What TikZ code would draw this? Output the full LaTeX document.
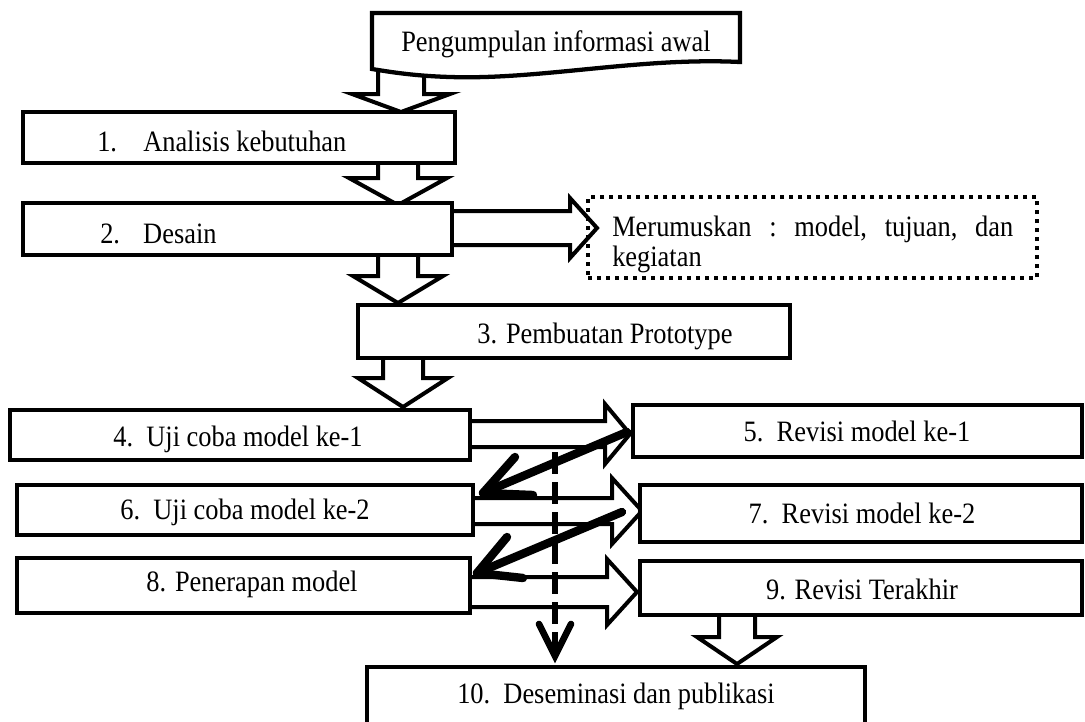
\documentclass[tikz,border=0pt]{standalone}
\usepackage{fontspec}
\usepackage{graphicx}
\setmainfont{Liberation Serif}
\usetikzlibrary{calc,fit}
\tikzset{
 box/.style={draw, line width=3.2pt, fill=white, inner sep=0pt},
 blockarrow/.style={draw, line width=3pt, fill=white, line join=miter, miter limit=20},
 txt/.style={font=\fontsize{19.8}{24}\selectfont, inner sep=0pt, anchor=base},
 feedback/.style={line width=6.3pt, line cap=round, line join=round},
 dashline/.style={line width=5pt, dash pattern=on 16.5pt off 6pt},
 vhead/.style={line width=5pt, line cap=round, line join=miter},
 dotbox/.style={draw, line width=3pt, dash pattern=on 3pt off 3.75pt, inner sep=0pt},
}
\newcommand\vst[1]{\scalebox{1}[1.12]{#1}}
\newcommand\blockdown[5]{%
 \draw[blockarrow] ($(#1)+(-#3,0)$) -- ($(#2)+(-#3,-#5)$) -- ($(#2)+(-#4,-#5)$) -- (#2) -- ($(#2)+(#4,-#5)$) -- ($(#2)+(#3,-#5)$) -- ($(#1)+(#3,0)$);}
\newcommand\blockright[5]{%
 \draw[blockarrow] ($(#1)+(0,-#3)$) -- ($(#2)+(-#5,-#3)$) -- ($(#2)+(-#5,-#4)$) -- (#2) -- ($(#2)+(-#5,#4)$) -- ($(#2)+(-#5,#3)$) -- ($(#1)+(0,#3)$);}
\begin{document}
\begin{tikzpicture}[x=0.75pt,y=-0.75pt]
\useasboundingbox (0,0) rectangle (1085,721);
\clip (0,0) rectangle (1085,721);

% arrow end points
\coordinate (a0s) at (401,70);  \coordinate (a0t) at (401,112);
\coordinate (a1s) at (398,158); \coordinate (a1t) at (398,205);
\coordinate (a2s) at (398,250); \coordinate (a2t) at (398,303);
\coordinate (a3s) at (403,353); \coordinate (a3t) at (403,407);
\coordinate (a4s) at (737,610); \coordinate (a4t) at (737,664);
\coordinate (r0s) at (447,228); \coordinate (r0t) at (597,228);
\coordinate (r1s) at (465,434); \coordinate (r1t) at (630,434);
\coordinate (r2s) at (470,511); \coordinate (r2t) at (642,511);
\coordinate (r3s) at (466,592); \coordinate (r3t) at (637,592);

% hollow block arrows
\blockdown{a0s}{a0t}{23}{49}{18}
\blockdown{a1s}{a1t}{20}{49}{27}
\blockdown{a2s}{a2t}{20}{45}{27}
\blockdown{a3s}{a3t}{20}{45}{29}
\blockdown{a4s}{a4t}{18}{40}{27}
\blockright{r0s}{r0t}{17}{30}{27}
\blockright{r1s}{r1t}{13}{30}{25}
\blockright{r2s}{r2t}{13}{33}{30}
\blockright{r3s}{r3t}{15}{33}{30}

% document shape
\draw[box, line join=miter] (372,13) -- (740,13) -- (740,62) .. controls (640,57) and (540,80) .. (450,77) .. controls (415,76) and (390,72) .. (372,69) -- cycle;

% boxes
\node[box, fit={(23,112) (455,163)}] (b1) {};
\node[box, fit={(23,203) (452,255)}] (b2) {};
\node[box, fit={(358,305) (790,358)}] (b3) {};
\node[box, fit={(10,410) (470,460)}] (b4) {};
\node[box, fit={(633,405) (1082,457)}] (b5) {};
\node[box, fit={(17,485) (473,535)}] (b6) {};
\node[box, fit={(640,485) (1082,542)}] (b7) {};
\node[box, fit={(17,558) (470,613)}] (b8) {};
\node[box, fit={(640,561) (1082,615)}] (b9) {};
\node[box, fit={(367,667) (865,745)}] (b10) {};
\node[dotbox, fit={(588,197) (1037,278)}] (dbox) {};

% texts
\node[txt] (t0) at (556,51) {\vst{Pengumpulan informasi awal}};
\node[txt, anchor=base west] (t1) at (97,151) {\vst{\makebox[34.5pt][l]{1.}Analisis kebutuhan}};
\node[txt, anchor=base west] (t2) at (100,243) {\vst{\makebox[32.25pt][l]{2.}Desain}};
\node[txt] (t3) at (605,343) {\vst{3. Pembuatan Prototype}};
\node[txt, anchor=base west] (tm1) at (612,236) {\vst{\makebox[300.75pt][s]{Merumuskan\hfill:\hfill model,\hfill tujuan,\hfill dan}}};
\node[txt, anchor=base west] (tm2) at (612,266) {\vst{kegiatan}};
\node[txt] (t4) at (238,446) {\vst{4.\hspace{0.5em}Uji coba model ke-1}};
\node[txt] (t5) at (857,441) {\vst{5.\hspace{0.5em}Revisi model ke-1}};
\node[txt] (t6) at (245,519) {\vst{6.\hspace{0.5em}Uji coba model ke-2}};
\node[txt] (t7) at (862,523) {\vst{7.\hspace{0.5em}Revisi model ke-2}};
\node[txt] (t8) at (252,591) {\vst{8. Penerapan model}};
\node[txt] (t9) at (862,599) {\vst{9. Revisi Terakhir}};
\node[txt] (t10) at (616,703) {\vst{10.\hspace{0.5em}Deseminasi dan publikasi}};

% dashed arrow to dissemination
\coordinate (ds) at (555,452); \coordinate (dt) at (555,656);
\draw[dashline] (ds) -- ($(dt)+(0,-6)$);
\draw[vhead] ($(dt)+(-16,-32)$) -- (dt) -- ($(dt)+(16,-32)$);

% thick feedback arrows
\coordinate (k1s) at (627,432); \coordinate (k1t) at (483,493);
\coordinate (k1a) at (515,457); \coordinate (k1b) at (533,495);
\draw[feedback] (k1s) -- (k1t);
\draw[feedback] (k1a) -- (k1t) -- (k1b);
\coordinate (k2s) at (622,512); \coordinate (k2t) at (477,573);
\coordinate (k2a) at (507,537); \coordinate (k2b) at (523,578);
\draw[feedback] (k2s) -- (k2t);
\draw[feedback] (k2a) -- (k2t) -- (k2b);
\end{tikzpicture}
\end{document}
